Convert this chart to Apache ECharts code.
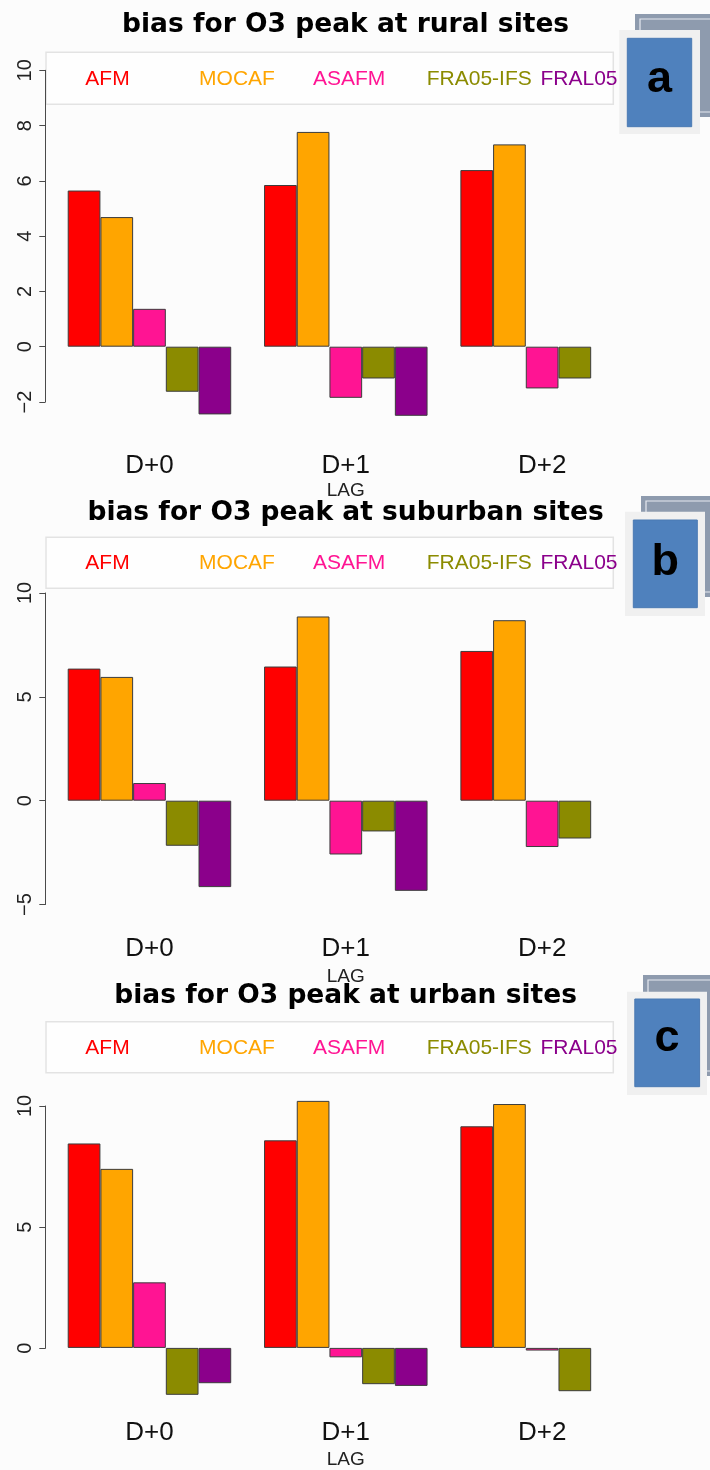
<!DOCTYPE html>
<html><head><meta charset="utf-8">
<script src="https://cdn.jsdelivr.net/npm/echarts@6/dist/echarts.min.js"></script>
<style>html,body{margin:0;padding:0;background:#fcfcfc}#c{width:710px;height:1470px}</style>
</head><body><div id="c"></div>
<script>
// ---------------- data ----------------
const categories = ['D+0', 'D+1', 'D+2'];
const models = ['AFM', 'MOCAF', 'ASAFM', 'FRA05-IFS', 'FRAL05'];
const modelColors = ['#FF0000', '#FFA500', '#FF1493', '#8B8B00', '#8B008B'];
const titles = ['bias for O3 peak at rural sites', 'bias for O3 peak at suburban sites', 'bias for O3 peak at urban sites'];
const panelLetters = ['a', 'b', 'c'];
const axisName = 'LAG';

const ruralTicks = [-2, 0, 2, 4, 6, 8, 10];
const suburbanTicks = [-5, 0, 5, 10];
const urbanTicks = [0, 5, 10];

const ruralAFM = [5.65, 5.85, 6.39];
const ruralMOCAF = [4.69, 7.77, 7.32];
const ruralASAFM = [1.37, -1.85, -1.51];
const ruralFRA05IFS = [-1.63, -1.15, -1.15];
const ruralFRAL05 = [-2.45, -2.50, null];

const suburbanAFM = [6.36, 6.46, 7.21];
const suburbanMOCAF = [5.96, 8.87, 8.69];
const suburbanASAFM = [0.85, -2.59, -2.23];
const suburbanFRA05IFS = [-2.17, -1.48, -1.82];
const suburbanFRAL05 = [-4.16, -4.34, null];

const urbanAFM = [8.45, 8.58, 9.16];
const urbanMOCAF = [7.40, 10.21, 10.08];
const urbanASAFM = [2.71, -0.39, -0.11];
const urbanFRA05IFS = [-1.94, -1.50, -1.79];
const urbanFRAL05 = [-1.46, -1.57, null];

const ruralValues = [ruralAFM, ruralMOCAF, ruralASAFM, ruralFRA05IFS, ruralFRAL05];
const suburbanValues = [suburbanAFM, suburbanMOCAF, suburbanASAFM, suburbanFRA05IFS, suburbanFRAL05];
const urbanValues = [urbanAFM, urbanMOCAF, urbanASAFM, urbanFRA05IFS, urbanFRAL05];

// ---------------- layout (pixels) ----------------
const FONT = 'Liberation Sans';
const TITLE_FONT = 'DejaVu Sans';
const TITLE_SIZE = 26.5;
const BAR_W = 32.7;
const BAR_GRID_LEFT = 51.3, BAR_GRID_W = 589;
const AXIS_X = 45.3;
const PLOT_CENTER_X = 345.6;
const LEGEND_STARTS = [84.3, 198.1, 311.9, 425.7, 539.5];
const layouts = [
  {zeroY: 346.7, ppu: 27.64, lo: -3, hi: 11, titleY: 24.5, legendY: 79.2, boxTop: 52.3, boxBot: 104.3, labelY: 465.5, lagY: 491,
   gray: [635, 14, 712, 117], light: [619.3, 30, 700, 134], blue: [627.3, 38.3, 691.7, 126.7], letter: [659.5, 80]},
  {zeroY: 800.7, ppu: 20.77, lo: -6, hi: 11, titleY: 513.3, legendY: 563.3, boxTop: 537.3, boxBot: 588.3, labelY: 949.3, lagY: 976.7,
   gray: [641, 496, 712, 597], light: [625, 511.7, 705, 616], blue: [633.3, 520, 697.3, 607.7], letter: [665.3, 562.5]},
  {zeroY: 1348.3, ppu: 24.23, lo: -2.5, hi: 11, titleY: 996.3, legendY: 1047.8, boxTop: 1021.7, boxBot: 1072.7, labelY: 1433.3, lagY: 1460,
   gray: [643, 975, 712, 1076], light: [627, 991.7, 707, 1095], blue: [634.8, 999, 699.6, 1086.7], letter: [667, 1039]}
];
const panelData = [
  {values: ruralValues, ticks: ruralTicks},
  {values: suburbanValues, ticks: suburbanTicks},
  {values: urbanValues, ticks: urbanTicks}
];

const ctx = document.createElement('canvas').getContext('2d');
function textW(str, font) { ctx.font = font; return ctx.measureText(str).width; }

const grids = [], xAxes = [], yAxes = [], series = [], legends = [], titleComps = [], graphics = [];

layouts.forEach((L, pi) => {
  const P = panelData[pi];
  const top = L.zeroY - L.hi * L.ppu;
  const height = (L.hi - L.lo) * L.ppu;
  const bottom = top + height;
  grids.push({left: BAR_GRID_LEFT, width: BAR_GRID_W, top: top, height: height, containLabel: false});
  xAxes.push({
    gridIndex: pi, type: 'category', data: categories,
    axisLine: {show: false, onZero: false}, axisTick: {show: false},
    axisLabel: {fontSize: 26, fontFamily: FONT, color: '#111', margin: L.labelY - 13 - bottom},
    name: axisName, nameLocation: 'middle', nameGap: L.lagY - 9.5 - bottom,
    nameTextStyle: {fontSize: 19, fontFamily: FONT, color: '#222'}
  });
  yAxes.push({gridIndex: pi, type: 'value', min: L.lo, max: L.hi, show: false, splitLine: {show: false}});
  models.forEach((m, mi) => {
    series.push({
      type: 'bar', name: m, xAxisIndex: pi, yAxisIndex: pi, data: P.values[mi],
      barWidth: BAR_W, barGap: '0%',
      itemStyle: {color: modelColors[mi], borderColor: '#3c3c3c', borderWidth: 1},
      emphasis: {disabled: true}
    });
  });
  // legend: one component per entry so entries are evenly spaced like the original
  models.forEach((m, mi) => {
    legends.push({
      left: LEGEND_STARTS[mi] - 6, top: L.legendY - 10.5, padding: 0,
      itemWidth: 1, itemHeight: 10, itemStyle: {opacity: 0}, selectedMode: false,
      data: [{name: m, textStyle: {color: modelColors[mi]}}],
      textStyle: {fontSize: 21, fontFamily: FONT}
    });
  });
  const tw = textW(titles[pi], 'bold ' + TITLE_SIZE + 'px "' + TITLE_FONT + '"');
  titleComps.push({
    text: titles[pi], left: PLOT_CENTER_X - tw / 2, top: L.titleY - TITLE_SIZE / 2, padding: 0,
    textStyle: {fontSize: TITLE_SIZE, fontWeight: 'bold', fontFamily: TITLE_FONT, color: '#000'}
  });
  // legend frame
  graphics.push({type: 'rect', z: 0, shape: {x: AXIS_X + 0.7, y: L.boxTop, width: 613.3 - AXIS_X - 0.7, height: L.boxBot - L.boxTop},
    style: {fill: '#fefefe', stroke: '#e3e3e3', lineWidth: 1.5}});
  // panel tag decoration
  const g = L.gray, li = L.light, b = L.blue;
  graphics.push({type: 'rect', z: 1, shape: {x: g[0], y: g[1], width: g[2] - g[0], height: g[3] - g[1]}, style: {fill: '#8e9bae'}});
  graphics.push({type: 'rect', z: 1, shape: {x: g[0] + 5, y: g[1] + 5, width: g[2] - g[0] - 5, height: g[3] - g[1] - 10}, style: {fill: 'none', stroke: '#e6eaf0', lineWidth: 1.2}});
  graphics.push({type: 'rect', z: 1, shape: {x: li[0], y: li[1], width: li[2] - li[0], height: li[3] - li[1]}, style: {fill: '#f0f0f0'}});
  graphics.push({type: 'rect', z: 1, shape: {x: b[0], y: b[1], width: b[2] - b[0], height: b[3] - b[1]}, style: {fill: '#4f81bd', stroke: '#4a7ab3', lineWidth: 1}});
  graphics.push({type: 'text', z: 2, x: L.letter[0], y: L.letter[1],
    style: {text: panelLetters[pi], fill: '#000', fontSize: 45, fontWeight: 'bold', fontFamily: FONT, textAlign: 'center', textVerticalAlign: 'middle'}});
});

// visible y axes (span only the tick range, as in the original)
layouts.forEach((L, pi) => {
  const t = panelData[pi].ticks;
  const tMin = t[0], tMax = t[t.length - 1];
  grids.push({left: AXIS_X, width: 10, top: L.zeroY - tMax * L.ppu, height: (tMax - tMin) * L.ppu});
  xAxes.push({gridIndex: 3 + pi, type: 'value', min: 0, max: 1, show: false});
  yAxes.push({
    gridIndex: 3 + pi, type: 'value', min: tMin, max: tMax, interval: t[1] - t[0],
    axisLine: {show: true, lineStyle: {color: '#4a4a4a', width: 1}},
    axisTick: {show: true, length: 6, lineStyle: {color: '#4a4a4a', width: 1}},
    axisLabel: {rotate: 90, fontSize: 20, fontFamily: FONT, color: '#222', margin: 10,
      align: 'center', verticalAlign: 'bottom',
      formatter: v => String(v).replace('-', '\u2212')},
    splitLine: {show: false}
  });
});

const chart = echarts.init(document.getElementById('c'), null, {renderer: 'canvas'});
chart.setOption({
  animation: false,
  backgroundColor: '#fcfcfc',
  title: titleComps,
  legend: legends,
  grid: grids,
  xAxis: xAxes,
  yAxis: yAxes,
  series: series,
  graphic: {elements: graphics}
});
</script></body></html>
